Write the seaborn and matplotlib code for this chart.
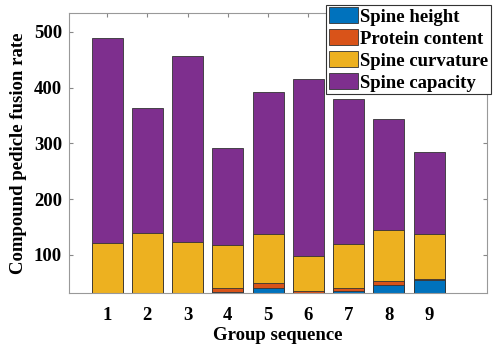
import matplotlib
matplotlib.use("Agg")
import matplotlib.pyplot as plt
import seaborn as sns
import numpy as np
import pandas as pd
from matplotlib.patches import Patch

groups = ["1", "2", "3", "4", "5", "6", "7", "8", "9"]
spine_height = [20, 20, 20, 33, 40, 31, 35, 46, 55]
protein_content = [8, 8, 8, 7, 9, 3.5, 6, 8, 2]
spine_curvature = [94, 111, 95, 77, 88, 64.5, 78, 91, 80]
spine_capacity = [367, 224, 334, 175, 256, 316, 260, 199, 148]

series_names = ["Spine height", "Protein content", "Spine curvature", "Spine capacity"]
colors = ["#0072BD", "#D95319", "#EDB120", "#7E2F8E"]

plt.rcParams["font.family"] = ["Liberation Serif", "DejaVu Serif"]
plt.rcParams["font.weight"] = "bold"

FS = 13.5

fig = plt.figure(figsize=(5, 3.47), dpi=100)
ax = fig.add_axes([0.138, 0.156, 0.836, 0.8065])

vals = np.array([spine_height, protein_content, spine_curvature, spine_capacity], dtype=float)
cum = np.cumsum(vals, axis=0)

# draw from tallest cumulative to shortest so each layer is visible
for i in range(3, -1, -1):
    df = pd.DataFrame({"group": groups, "value": cum[i]})
    sns.barplot(data=df, x="group", y="value", color=colors[i], width=0.77,
                edgecolor="#333333", linewidth=0.6, saturation=1, ax=ax, zorder=2)

ax.set_xlim(-0.945, 9.44)
ax.set_ylim(32, 534)
ax.set_yticks([100, 200, 300, 400, 500])
ax.set_xlabel("Group sequence", fontsize=FS, fontweight="bold", labelpad=2.5)
ax.set_ylabel("Compound pedicle fusion rate", fontsize=FS, fontweight="bold", labelpad=5)
ax.tick_params(direction="in", length=3, color="#888888", labelsize=FS,
               top=True, right=True)
ax.tick_params(axis="x", pad=10)
ax.tick_params(axis="y", pad=5)
for lab in ax.get_xticklabels() + ax.get_yticklabels():
    lab.set_fontweight("bold")
for s in ax.spines.values():
    s.set_color("#999999")
    s.set_linewidth(0.8)

handles = [Patch(facecolor=c, edgecolor="#333333", linewidth=0.6) for c in colors]
leg = ax.legend(handles, series_names, loc="upper right", bbox_to_anchor=(1.01, 1.03),
                prop={"family": ["Liberation Serif"], "weight": "bold", "size": FS},
                frameon=True, fancybox=False, edgecolor="#333333", framealpha=1,
                handlelength=1.55, handleheight=0.9, handletextpad=0.1,
                borderpad=0.15, labelspacing=0.2, borderaxespad=0.0)
leg.get_frame().set_linewidth(0.8)

fig.savefig("out.png", dpi=100)
